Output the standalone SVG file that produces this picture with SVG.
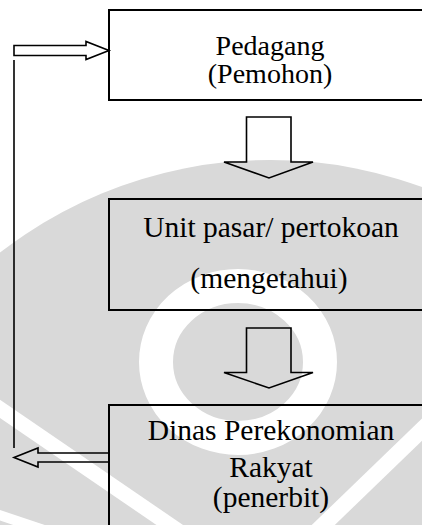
<svg xmlns="http://www.w3.org/2000/svg" width="422" height="525" viewBox="0 0 422 525">
<style>
.box{fill:none;stroke:#000;stroke-width:2}
.arr{fill:none;stroke:#000;stroke-width:1.6;stroke-linejoin:miter}
.ln{fill:none;stroke:#000;stroke-width:1.6}
text{font-family:"Liberation Serif","Times New Roman",serif;fill:#000;text-anchor:middle}
.t1{font-size:28px}
.t2{font-size:29.5px}
.wm{fill:#d9d9d9}
.wb{fill:none;stroke:#fff}
</style>
<rect width="422" height="525" fill="#fff"/>
<g id="watermark">
<circle class="wm" cx="270" cy="600" r="440"/>
<ellipse class="wb" cx="238" cy="362" rx="82" ry="76" stroke-width="34"/>
<path class="wb" d="M-10 402 L180 532" stroke-width="15"/>
<path class="wb" d="M432 420 L316 532" stroke-width="16"/>
<path class="wb" d="M-10 512 L50 532" stroke-width="10"/>
</g>
<g id="connectors">
<polygon class="arr" points="14,45.5 86,45.5 86,41.5 109,50.5 86,59.5 86,55.5 14,55.5"/>
<line class="ln" x1="14" y1="60" x2="14" y2="448"/>
<polygon class="arr" points="246.5,117 291,117 291,162 313,162 269,178 224,162 246.5,162"/>
<polygon class="arr" points="246.5,328 291,328 291,372.5 313,372.5 269,388 224,372.5 246.5,372.5"/>
<polygon class="arr" points="109,453 38,453 38,448 14,457.5 38,467 38,462 109,462"/>
</g>
<g id="node-pedagang">
<rect class="box" x="109" y="10" width="330" height="90"/>
<text class="t1" x="270" y="55">Pedagang</text>
<text class="t1" x="270" y="83">(Pemohon)</text>
</g>
<g id="node-unit-pasar">
<rect class="box" x="109" y="199" width="330" height="111"/>
<text class="t2" x="271" y="237">Unit pasar/ pertokoan</text>
<text class="t2" x="269" y="288">(mengetahui)</text>
</g>
<g id="node-dinas">
<rect class="box" x="109" y="405" width="330" height="140"/>
<text class="t2" x="271" y="440">Dinas Perekonomian</text>
<text class="t2" x="271" y="477">Rakyat</text>
<text class="t2" x="271" y="507">(penerbit)</text>
</g>
</svg>
